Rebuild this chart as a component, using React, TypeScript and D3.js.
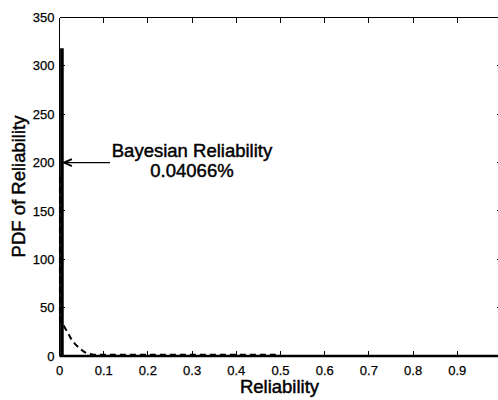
import React from "react";
import * as d3 from "d3";

// Posterior PDF (solid) – very narrow spike near zero
const posteriorR = [0, 0.004, 0.004, 0.007, 0.007, 1.0];
const posteriorPdf = [0, 0, 317, 317, 0, 0];

// Prior / likelihood PDF (dashed)
const priorR = [0.001, 0.001, 0.005, 0.01, 0.015, 0.02, 0.026, 0.035, 0.045, 0.055, 0.064, 0.075, 0.1, 0.2, 0.3, 0.4, 0.5];
const priorPdf = [185, 36, 35, 31, 27, 23, 18, 12.5, 8, 4.5, 2.5, 1.5, 1.2, 1.2, 1.2, 1.2, 1.2];

const xTicks = [0, 0.1, 0.2, 0.3, 0.4, 0.5, 0.6, 0.7, 0.8, 0.9, 1.0];
const xTickLabels = ["0", "0.1", "0.2", "0.3", "0.4", "0.5", "0.6", "0.7", "0.8", "0.9", ""];
const yTicks = [0, 50, 100, 150, 200, 250, 300, 350];
const yTickLabels = ["0", "50", "100", "150", "200", "250", "300", "350"];

const annotationValue = 200;
const annotationLines = ["Bayesian Reliability", "0.04066%"];
const xLabel = "Reliability";
const yLabel = "PDF of Reliability";

const W = 498;
const H = 400;
const FONT = "'Liberation Sans', Arial, Helvetica, sans-serif";

export default function App() {
  const x = d3.scaleLinear().domain([0, 1]).range([59.5, 501.5]);
  const y = d3.scaleLinear().domain([0, 350]).range([356, 17.5]);
  const [x0, x1] = x.range();
  const [yb, yt] = y.range();

  const line = d3
    .line<[number, number]>()
    .x((d) => x(d[0]))
    .y((d) => y(d[1]));

  const post = line(posteriorR.map((r, i) => [r, posteriorPdf[i]]) as [number, number][]) || "";
  const prior = line(priorR.map((r, i) => [r, priorPdf[i]]) as [number, number][]) || "";

  const tick = 5;
  const ay = y(annotationValue);
  const tipX = x(0.01);
  const heavy = { stroke: "#000", strokeWidth: 0.45 };
  const light = { stroke: "#000", strokeWidth: 0.25 };

  return (
    <svg
      width={W}
      height={H}
      style={{ position: "absolute", left: 0, top: 0, background: "#fff" }}
      fontFamily={FONT}
    >
      <rect x={0} y={0} width={W} height={H} fill="#fff" />
      {/* box */}
      <g stroke="#000" strokeWidth={1} fill="none" shapeRendering="crispEdges">
        <line x1={x0} y1={yb} x2={x1} y2={yb} />
        <line x1={x0} y1={yt} x2={x1} y2={yt} />
        <line x1={x0} y1={yb} x2={x0} y2={yt} />
        <line x1={x1} y1={yb} x2={x1} y2={yt} />
        {xTicks.map((t, i) => (
          <g key={"xt" + i}>
            <line x1={x(t)} x2={x(t)} y1={yb} y2={yb - tick} />
            <line x1={x(t)} x2={x(t)} y1={yt} y2={yt + tick} />
          </g>
        ))}
        {yTicks.map((t, i) => (
          <g key={"yt" + i}>
            <line x1={x0} x2={x0 + tick} y1={y(t)} y2={y(t)} />
            <line x1={x1} x2={x1 - tick} y1={y(t)} y2={y(t)} />
          </g>
        ))}
      </g>
      {/* tick labels */}
      <g fontSize={13} fill="#000" {...light}>
        {xTicks.map((t, i) => (
          <text key={"xl" + i} x={x(t)} y={374.5} textAnchor="middle">
            {xTickLabels[i]}
          </text>
        ))}
        {yTicks.map((t, i) => (
          <text key={"yl" + i} x={54.5} y={y(t) + 4.6} textAnchor="end">
            {yTickLabels[i]}
          </text>
        ))}
      </g>
      {/* curves */}
      <path d={prior} fill="none" stroke="#000" strokeWidth={2} strokeDasharray="6,4" />
      <path d={post} fill="none" stroke="#000" strokeWidth={2.3} />
      {/* annotation */}
      <g stroke="#000" fill="none" strokeWidth={1.3}>
        <line x1={110} y1={ay} x2={tipX - 0.5} y2={ay} />
        <path d={`M${tipX + 8},${ay - 3.5} L${tipX},${ay} L${tipX + 8},${ay + 3.5}`} strokeWidth={1.8} />
      </g>
      <g fontSize={18.5} fill="#000" textAnchor="middle" {...heavy}>
        <text x={192} y={156.7}>{annotationLines[0]}</text>
        <text x={192} y={176.7}>{annotationLines[1]}</text>
      </g>
      {/* axis labels */}
      <text x={(x0 + x1) / 2 - 1} y={393} fontSize={18.5} textAnchor="middle" fill="#000" {...heavy}>
        {xLabel}
      </text>
      <text
        transform={`translate(24.5,186.5) rotate(-90)`}
        fontSize={18.5}
        textAnchor="middle"
        fill="#000"
        {...heavy}
      >
        {yLabel}
      </text>
    </svg>
  );
}
